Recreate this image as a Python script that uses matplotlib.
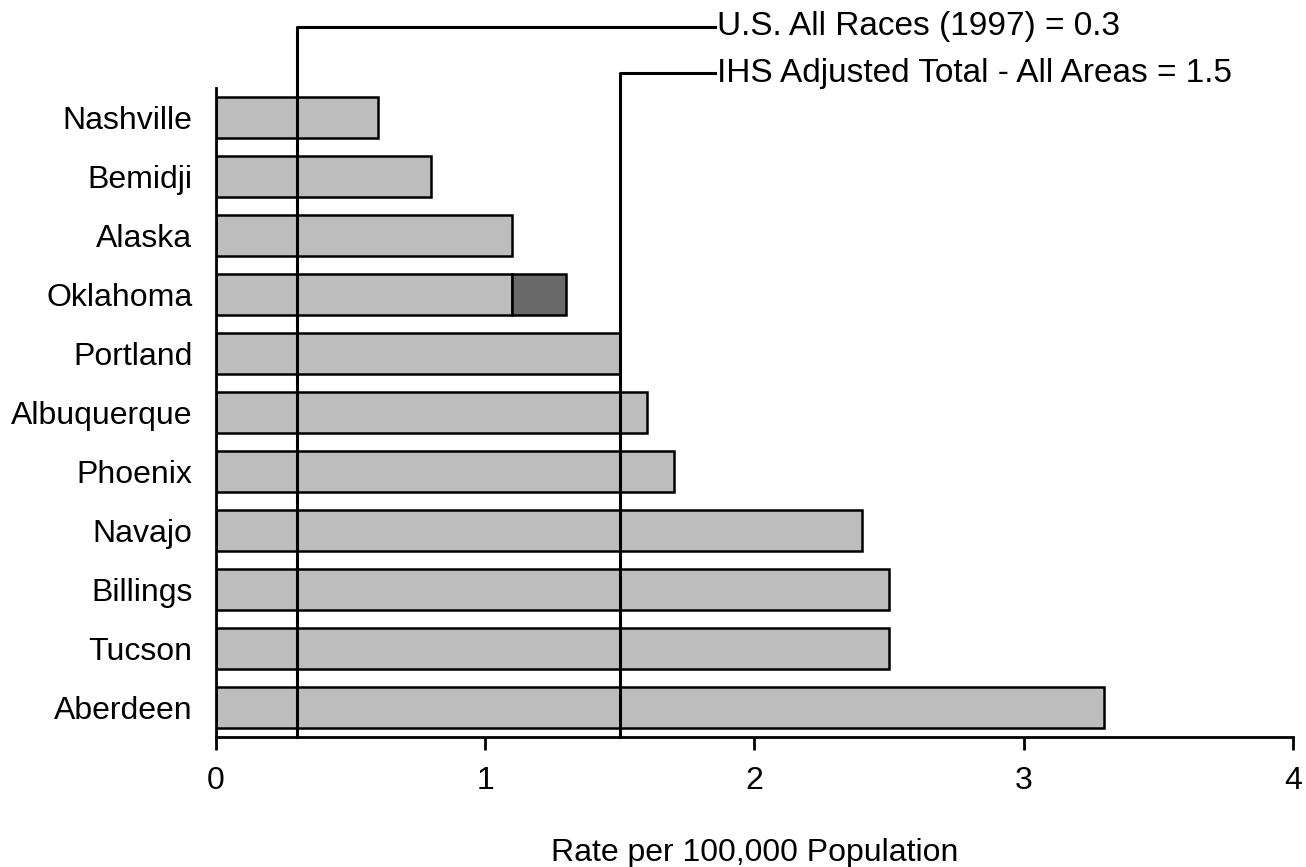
import matplotlib.pyplot as plt
import matplotlib.transforms as mtransforms

plt.rcParams['font.family'] = ['Liberation Sans', 'DejaVu Sans']

areas = ["Nashville", "Bemidji", "Alaska", "Oklahoma", "Portland", "Albuquerque",
         "Phoenix", "Navajo", "Billings", "Tucson", "Aberdeen"]
rates = [0.6, 0.8, 1.1, 1.1, 1.5, 1.6, 1.7, 2.4, 2.5, 2.5, 3.3]
extra = [0, 0, 0, 0.2, 0, 0, 0, 0, 0, 0, 0]

ref_values = [0.3, 1.5]
ref_labels = ["U.S. All Races (1997) = 0.3", "IHS Adjusted Total - All Areas = 1.5"]
ref_heights = [1.094, 1.023]   # axes fraction where the leader line turns

fig = plt.figure(figsize=(13.06, 8.67), dpi=100)
ax = fig.add_axes([0.1654, 0.150, 0.8246, 0.7485])

ypos = list(range(len(areas)))[::-1]
ax.barh(ypos, rates, height=0.68, color="#bdbdbd", edgecolor="black", linewidth=1.8)
ax.barh(ypos, extra, left=rates, height=0.68, color="#6a6a6a", edgecolor="black",
        linewidth=1.8)
# hide the zero-width extra bars
for p, e in zip(ax.patches[len(areas):], extra):
    if e == 0:
        p.set_visible(False)

ax.set_xlim(0, 4)
ax.set_ylim(-0.5, len(areas) - 0.5)
ax.set_yticks(ypos)
ax.set_yticklabels(areas, fontsize=23)
ax.set_xticks([0, 1, 2, 3, 4])
ax.tick_params(axis="x", labelsize=23, length=9, width=2, pad=12)
ax.tick_params(axis="y", length=0, pad=17)
ax.set_xlabel("Rate per 100,000 Population", fontsize=23, labelpad=30)

for s in ["top", "right"]:
    ax.spines[s].set_visible(False)
for s in ["left", "bottom"]:
    ax.spines[s].set_linewidth(2)

trans = mtransforms.blended_transform_factory(ax.transData, ax.transAxes)
text_x = 1.855
for v, lab, h in zip(ref_values, ref_labels, ref_heights):
    ax.plot([v, v, text_x], [0, h, h], color="black", linewidth=2.2,
            transform=trans, clip_on=False)
    ax.text(text_x + 0.005, h, lab, transform=trans, fontsize=24, va="center",
            ha="left")

fig.savefig("out.png", dpi=100)
